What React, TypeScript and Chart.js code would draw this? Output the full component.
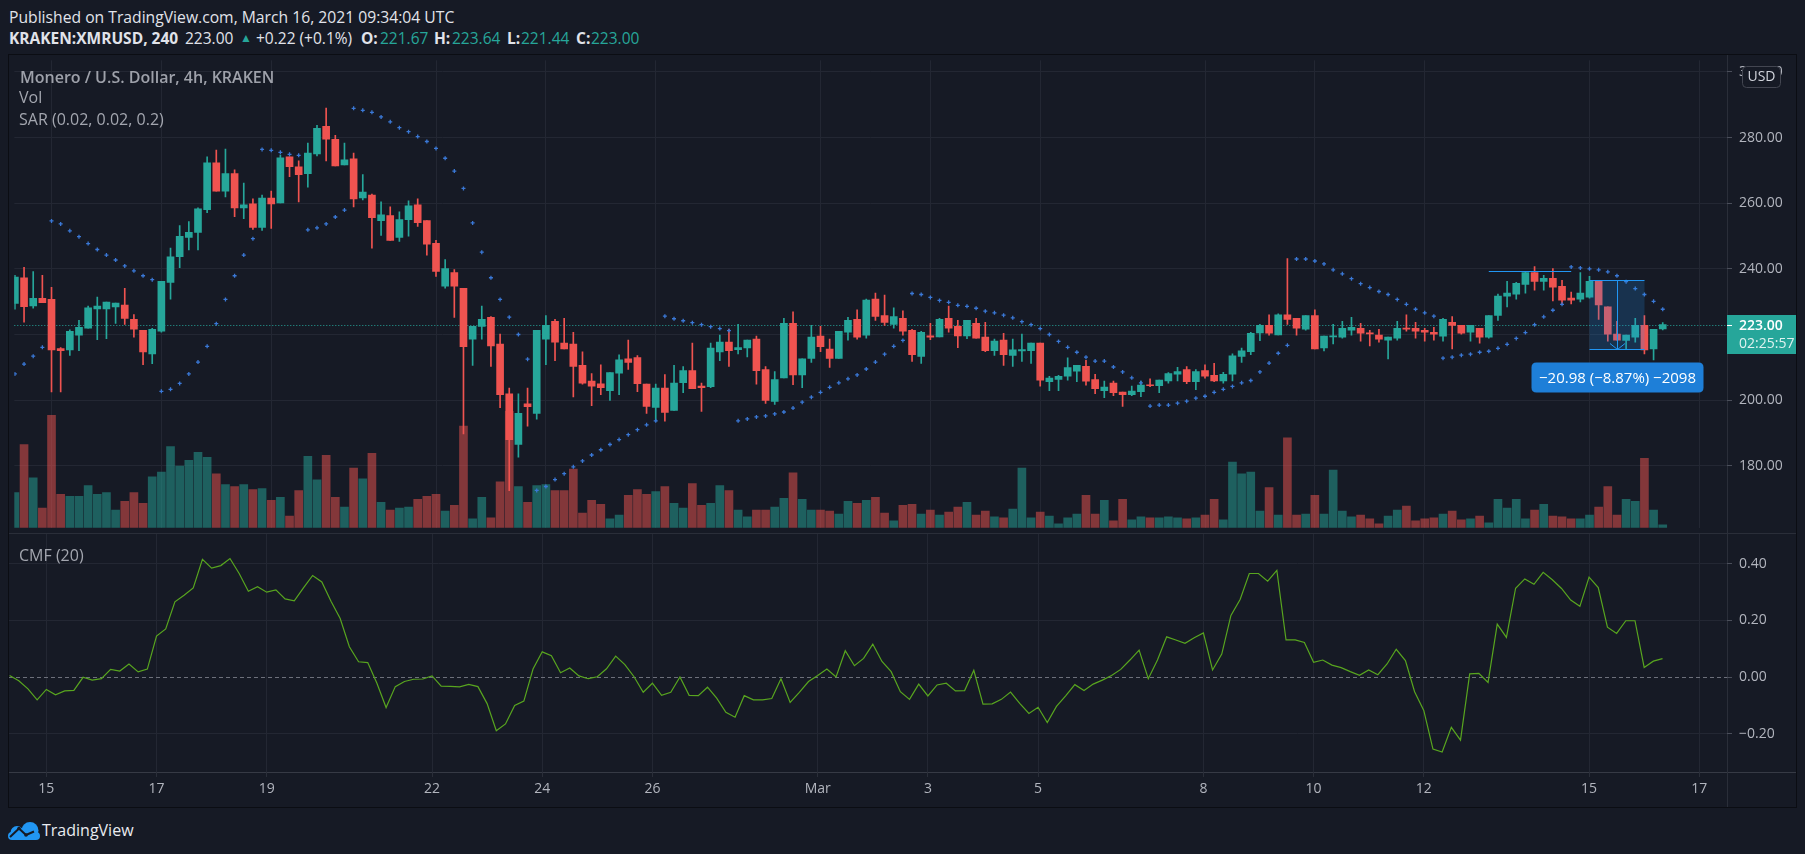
import React, { useEffect, useRef } from "react";
import { Chart, registerables } from "chart.js";

Chart.register(...registerables);

// ---------------- data (4h candles, index 0 = Feb 14 08:00 UTC) ----------------
const OPEN = [
  229.5, 237.3, 228.7, 231.0, 230.7, 215.7, 215.3, 219.8, 221.9, 227.8,
  227.8, 228.4, 229.0, 224.6, 221.3, 214.1, 221.0, 235.9, 243.7, 249.6,
  251.1, 258.0, 272.3, 263.7, 269.0, 258.6, 259.8, 252.6, 261.6, 260.1,
  274.1, 271.1, 269.0, 275.0, 283.4, 279.5, 271.7, 273.5, 261.6, 262.5,
  254.7, 256.2, 249.6, 255.0, 259.5, 254.7, 247.8, 234.7, 238.9, 234.1,
  218.6, 222.5, 225.2, 217.1, 201.9, 186.5, 198.9, 196.0, 218.6, 224.0,
  217.4, 217.1, 210.6, 205.8, 205.0, 202.9, 208.2, 212.6, 213.0, 204.9,
  197.8, 203.7, 196.9, 205.3, 209.0, 204.3, 204.1, 214.7, 217.7, 215.4,
  215.9, 218.6, 209.3, 199.6, 206.8, 223.4, 207.7, 212.7, 219.5, 215.6,
  212.7, 220.7, 224.6, 219.8, 230.8, 225.8, 223.1, 224.9, 221.3, 213.3,
  219.6, 219.3, 224.9, 222.5, 219.6, 223.4, 219.2, 215.1, 218.3, 213.6,
  215.0, 215.1, 217.4, 205.6, 206.3, 207.3, 208.8, 210.3, 206.3, 202.9,
  205.2, 202.5, 201.7, 202.6, 204.7, 204.4, 205.9, 207.9, 209.3, 205.6,
  209.0, 207.6, 205.9, 207.9, 213.3, 214.8, 220.5, 222.8, 219.9, 226.0,
  224.9, 221.6, 225.8, 215.9, 219.3, 219.2, 221.3, 221.9, 220.5, 219.8,
  218.3, 218.9, 222.0, 221.9, 221.3, 220.7, 219.5, 223.7, 222.8, 220.7,
  221.9, 219.2, 225.8, 231.7, 232.3, 235.3, 238.9, 236.2, 237.1, 234.7,
  231.1, 230.8, 231.4, 236.2, 228.4, 220.1, 218.2, 219.2, 222.8, 215.6,
  221.67,
];
const HIGH = [
  238.0, 240.5, 239.2, 238.0, 234.4, 216.0, 221.4, 224.3, 228.7, 231.4,
  229.9, 229.6, 234.1, 226.1, 221.3, 221.9, 236.2, 246.3, 253.2, 254.4,
  258.6, 274.1, 276.2, 276.5, 270.2, 266.1, 261.3, 262.5, 263.7, 274.7,
  274.1, 272.9, 278.3, 283.7, 289.0, 280.7, 278.3, 275.3, 268.7, 262.8,
  260.4, 258.9, 257.4, 260.7, 261.3, 254.7, 248.7, 242.8, 239.8, 234.1,
  222.5, 228.7, 225.5, 220.1, 203.7, 201.9, 203.7, 221.3, 225.8, 224.6,
  224.9, 220.7, 214.7, 208.1, 210.8, 208.4, 213.8, 218.3, 213.6, 204.9,
  204.9, 207.8, 210.6, 210.2, 217.4, 205.2, 217.4, 219.8, 221.6, 223.1,
  218.3, 219.5, 210.2, 208.7, 224.9, 226.9, 212.6, 222.8, 222.5, 218.6,
  221.0, 225.2, 227.5, 230.8, 232.6, 232.0, 228.1, 227.2, 221.6, 221.0,
  223.4, 224.9, 228.7, 224.3, 224.3, 224.9, 223.7, 218.6, 220.4, 218.6,
  220.1, 217.4, 217.4, 207.3, 207.6, 212.9, 210.6, 212.1, 207.9, 205.8,
  205.8, 202.5, 204.3, 205.8, 206.5, 206.1, 208.4, 210.0, 210.2, 209.3,
  210.8, 211.2, 208.5, 214.1, 215.9, 220.7, 223.1, 226.0, 226.3, 243.1,
  224.9, 225.8, 227.5, 219.5, 223.1, 224.0, 225.2, 223.4, 221.3, 221.6,
  219.2, 224.0, 226.0, 223.7, 221.9, 222.2, 224.9, 225.5, 222.8, 222.8,
  221.9, 225.8, 232.3, 236.2, 235.9, 239.2, 240.7, 238.0, 240.1, 236.5,
  232.9, 238.9, 237.7, 236.2, 228.4, 224.0, 219.8, 224.9, 225.8, 221.6,
  223.64,
];
const LOW = [
  227.7, 223.8, 228.0, 229.7, 202.5, 202.5, 213.6, 215.1, 221.9, 218.4,
  218.7, 223.4, 223.1, 219.2, 210.8, 211.1, 220.7, 230.8, 240.4, 245.8,
  245.8, 257.1, 263.7, 261.9, 255.9, 255.3, 252.0, 251.7, 252.3, 260.1,
  268.1, 260.4, 264.9, 274.4, 272.9, 271.4, 271.7, 258.9, 261.0, 246.3,
  250.2, 248.7, 248.4, 250.0, 252.9, 244.2, 237.7, 234.1, 225.2, 189.7,
  210.6, 218.6, 210.3, 197.7, 172.4, 182.6, 192.1, 194.2, 210.8, 212.0,
  215.6, 201.0, 204.9, 198.3, 201.7, 199.9, 201.7, 209.4, 202.6, 196.0,
  193.6, 193.6, 196.9, 202.3, 203.5, 196.6, 203.8, 212.0, 210.3, 214.1,
  213.2, 204.9, 199.0, 198.7, 206.8, 204.7, 203.8, 211.5, 214.8, 210.0,
  212.7, 218.3, 218.6, 218.9, 224.3, 222.8, 221.9, 219.8, 211.8, 211.2,
  218.4, 219.3, 220.7, 216.0, 218.7, 218.9, 214.8, 213.6, 210.6, 210.3,
  211.8, 211.2, 204.3, 202.9, 202.9, 206.1, 205.6, 204.6, 202.0, 200.8,
  201.4, 198.1, 201.4, 201.1, 204.1, 202.3, 205.2, 205.9, 205.0, 203.2,
  206.7, 205.6, 205.2, 205.9, 211.5, 213.9, 218.1, 219.8, 219.9, 223.1,
  219.8, 221.3, 215.6, 215.0, 217.1, 218.9, 219.8, 218.0, 216.5, 217.7,
  212.6, 218.3, 221.0, 218.9, 218.0, 218.3, 218.0, 215.6, 220.1, 218.0,
  217.4, 218.9, 224.3, 228.4, 230.8, 232.6, 233.5, 233.5, 230.2, 229.3,
  229.3, 229.9, 231.1, 224.6, 218.0, 218.3, 215.6, 217.7, 214.1, 212.3,
  221.44,
];
const CLOSE = [
  237.5, 228.5, 231.0, 229.7, 215.3, 215.1, 221.0, 222.2, 228.1, 228.7,
  229.9, 229.6, 224.9, 221.6, 214.7, 221.6, 236.2, 243.7, 249.9, 251.1,
  258.3, 272.3, 263.7, 269.0, 258.6, 259.5, 252.6, 261.6, 259.8, 273.8,
  271.1, 268.7, 275.3, 282.8, 279.5, 271.4, 273.2, 261.3, 263.4, 255.6,
  256.5, 248.7, 255.0, 259.2, 254.1, 247.5, 239.2, 240.1, 234.7, 216.3,
  222.5, 224.6, 216.5, 201.7, 188.0, 196.0, 198.0, 221.3, 222.8, 217.7,
  215.6, 210.3, 205.2, 204.3, 203.8, 208.4, 212.3, 211.5, 205.0, 198.1,
  203.7, 196.3, 205.2, 209.0, 203.5, 203.8, 215.9, 217.7, 215.1, 216.0,
  218.3, 209.0, 199.9, 206.3, 223.4, 207.7, 212.6, 219.2, 216.3, 212.7,
  221.0, 224.3, 219.2, 230.5, 225.5, 223.7, 225.5, 221.0, 213.9, 220.7,
  219.2, 224.6, 221.9, 219.6, 224.3, 218.9, 215.1, 218.0, 213.9, 215.3,
  215.4, 217.4, 206.1, 206.7, 207.3, 209.9, 210.6, 205.8, 203.5, 204.0,
  202.3, 201.7, 202.8, 204.6, 204.4, 206.1, 208.1, 208.7, 205.6, 208.7,
  207.3, 205.9, 207.9, 213.5, 215.0, 220.4, 222.8, 220.4, 226.0, 224.6,
  221.9, 225.8, 215.6, 219.5, 219.6, 221.9, 222.2, 220.4, 220.2, 218.6,
  219.2, 221.9, 221.6, 221.0, 220.7, 220.1, 224.6, 222.8, 220.4, 222.8,
  219.2, 225.8, 231.7, 232.6, 235.6, 238.9, 236.2, 237.1, 234.4, 230.5,
  230.5, 232.6, 236.2, 229.0, 220.1, 218.3, 219.8, 222.8, 215.3, 221.6,
  223.0,
];
// volume, thousand XMR
const VOLUME = [
  36, 85, 51, 20, 115, 34, 32, 32, 43, 34,
  36, 18, 27, 36, 25, 52, 57, 83, 63, 69,
  77, 72, 55, 44, 42, 44, 39, 40, 28, 31,
  12, 38, 73, 49, 74, 31, 21, 61, 50, 76,
  26, 18, 20, 21, 29, 32, 34, 17, 23, 104,
  9, 31, 10, 47, 119, 42, 26, 43, 44, 38,
  38, 60, 15, 28, 24, 9, 13, 33, 39, 34,
  37, 42, 25, 20, 45, 23, 25, 43, 38, 18,
  11, 18, 18, 21, 30, 56, 29, 18, 18, 17,
  14, 27, 25, 28, 31, 15, 7, 23, 24, 14,
  18, 13, 16, 21, 26, 13, 17, 11, 10, 19,
  61, 10, 16, 12, 4, 10, 14, 33, 14, 28,
  7, 29, 8, 11, 10, 10, 11, 10, 9, 10,
  13, 29, 8, 67, 55, 57, 17, 41, 13, 92,
  13, 14, 33, 14, 59, 17, 11, 13, 9, 4,
  12, 18, 22, 7, 9, 10, 14, 17, 8, 9,
  12, 5, 29, 20, 29, 9, 18, 24, 12, 11,
  9, 9, 13, 21, 42, 13, 29, 27, 71, 18,
  3,
];
const SAR = [
  208.0, 211.0, 213.4, 216.1, 254.6, 253.7, 251.6, 249.8, 247.7, 245.9,
  244.2, 242.7, 240.9, 239.4, 237.9, 236.7, 202.7, 203.3, 205.1, 208.0,
  211.6, 216.4, 223.3, 230.7, 237.9, 244.2, 249.2, 276.4, 276.1, 275.5,
  274.9, 274.6, 251.9, 252.5, 253.7, 255.8, 257.9, 288.9, 288.3, 287.7,
  286.3, 284.8, 283.0, 281.8, 280.3, 278.8, 276.7, 273.7, 269.8, 264.5,
  254.0, 245.1, 237.3, 230.7, 225.3, 220.0, 212.5, 172.5, 173.7, 175.8,
  177.6, 179.7, 181.5, 183.3, 184.9, 186.5, 188.0, 189.5, 191.0, 192.5,
  193.7, 225.6, 224.8, 224.2, 223.6, 223.0, 222.4, 221.8, 221.2, 193.7,
  194.3, 194.9, 195.2, 195.8, 196.4, 197.6, 199.4, 200.9, 202.4, 203.9,
  205.3, 206.5, 207.7, 209.5, 211.6, 214.0, 216.4, 218.2, 232.5, 232.2,
  231.3, 230.4, 229.8, 228.9, 228.6, 228.0, 227.1, 226.6, 225.9, 225.1,
  223.9, 223.0, 221.8, 220.0, 217.9, 216.1, 214.6, 213.1, 211.9, 211.9,
  210.1, 208.6, 206.8, 205.3, 198.2, 198.5, 198.5, 199.1, 199.7, 200.6,
  201.2, 202.4, 203.3, 204.2, 205.3, 206.0, 208.6, 211.3, 214.3, 216.7,
  243.0, 243.0, 242.4, 241.5, 239.7, 238.5, 237.0, 235.5, 234.3, 233.1,
  232.2, 230.7, 229.2, 227.7, 226.6, 225.6, 212.8, 213.1, 213.7, 214.0,
  214.6, 214.9, 215.8, 217.0, 218.8, 220.6, 223.0, 225.4, 227.4, 229.2,
  240.6, 240.3, 240.0, 239.7, 239.1, 237.9, 236.1, 234.0, 232.2, 230.1,
  227.7,
];
const CMF = [
  0.005, -0.013, -0.042, -0.081, -0.044, -0.063, -0.049, -0.047, -0.001, -0.011,
  -0.006, 0.027, 0.021, 0.046, 0.018, 0.028, 0.145, 0.17, 0.266, 0.289,
  0.315, 0.416, 0.385, 0.394, 0.419, 0.366, 0.303, 0.319, 0.3, 0.308,
  0.276, 0.269, 0.315, 0.359, 0.336, 0.268, 0.207, 0.107, 0.054, 0.051,
  -0.022, -0.108, -0.034, -0.016, -0.008, -0.007, 0.004, -0.032, -0.033, -0.035,
  -0.026, -0.034, -0.094, -0.19, -0.166, -0.101, -0.085, 0.028, 0.089, 0.075,
  0.015, 0.032, 0.004, -0.006, 0.001, 0.029, 0.074, 0.044, 0.001, -0.054,
  -0.022, -0.065, -0.054, 0.0, -0.065, -0.066, -0.036, -0.075, -0.125, -0.142,
  -0.066, -0.081, -0.081, -0.076, -0.006, -0.09, -0.054, -0.016, 0.005, 0.028,
  0.0, 0.093, 0.04, 0.066, 0.116, 0.055, 0.019, -0.052, -0.079, -0.025,
  -0.067, -0.028, -0.022, -0.049, -0.048, 0.024, -0.096, -0.095, -0.079, -0.053,
  -0.093, -0.129, -0.107, -0.161, -0.104, -0.067, -0.027, -0.048, -0.025, -0.011,
  0.005, 0.027, 0.06, 0.095, -0.006, 0.06, 0.142, 0.131, 0.119, 0.139,
  0.156, 0.025, 0.081, 0.218, 0.274, 0.366, 0.366, 0.339, 0.377, 0.131,
  0.131, 0.122, 0.052, 0.06, 0.042, 0.033, 0.019, 0.006, 0.025, 0.008,
  0.046, 0.098, 0.058, -0.052, -0.118, -0.255, -0.265, -0.178, -0.223, 0.011,
  0.013, -0.019, 0.187, 0.14, 0.314, 0.347, 0.328, 0.37, 0.344, 0.313,
  0.272, 0.25, 0.353, 0.316, 0.176, 0.154, 0.199, 0.199, 0.034, 0.056,
  0.065,
];
// day ticks: days after Feb 15 (candle index = 4 + 6 * day)
const DAY_TICKS = [0, 2, 4, 7, 9, 11, 14, 16, 18, 21, 23, 25, 28, 30];
const DAY_LABELS = ["15", "17", "19", "22", "24", "26", "Mar", "3", "5", "8", "10", "12", "15", "17"];
const PRICE_TICKS = [180, 200, 220, 240, 260, 280, 300];
const CMF_TICKS = [-0.2, 0, 0.2, 0.4];
const LAST_PRICE = 223.0;
const COUNTDOWN = "02:25:57";
const MEASURE_FROM = 172;
const MEASURE_TO = 178;
const MEASURE_START = 236.5;
const MEASURE_END = 215.52;
const MEASURE_TEXT = "\u221220.98 (\u22128.87%) \u22122098";
const LEVEL_FROM = 161;
const LEVEL_TO = 170;
const LEVEL_PRICE = 239.2;

// ---------------- style ----------------
const FONT = "'Open Sans', 'Noto Sans', Roboto, sans-serif";
const BG = "#161a25";
const GRID = "#232733";
const LINE = "#2a2e39";
const TICK = "#4a4e5a";
const TEXT = "#b2b5be";
const LEGEND = "#a3a6af";
const TEAL = "#26a69a";
const RED = "#ef5350";
const VOL_UP = "rgba(38,166,154,0.5)";
const VOL_DOWN = "rgba(239,83,80,0.5)";
const BLUE = "#2196f3";
const SAR_COLOR = "#3a78d6";
const CMF_COLOR = "#58a51f";

const X_MIN = -0.065;
const X_MAX = 187.02;
const PRICE_MIN = 161.15;
const PRICE_MAX = 303.54;
const VOL_MAX = 478;
const CMF_MIN = -0.3359;
const CMF_MAX = 0.5057;

const IDX = OPEN.map((_, i) => i);
const isUp = (i: number) => CLOSE[i] >= OPEN[i];
const candleColors = IDX.map((i) => (isUp(i) ? TEAL : RED));

const fixY = (w: number) => (s: any) => {
  s.width = w;
  s.paddingTop = 0;
  s.paddingBottom = 0;
};
const fixX = (h: number) => (s: any) => {
  s.height = h;
  s.paddingLeft = 0;
  s.paddingRight = 0;
};
const dayTicks = (s: any) => {
  s.ticks = DAY_TICKS.map((d) => ({ value: 4 + 6 * d }));
};

function rr(ctx: CanvasRenderingContext2D, x: number, y: number, w: number, h: number, r: number) {
  ctx.beginPath();
  ctx.moveTo(x + r, y);
  ctx.lineTo(x + w - r, y);
  ctx.quadraticCurveTo(x + w, y, x + w, y + r);
  ctx.lineTo(x + w, y + h - r);
  ctx.quadraticCurveTo(x + w, y + h, x + w - r, y + h);
  ctx.lineTo(x + r, y + h);
  ctx.quadraticCurveTo(x, y + h, x, y + h - r);
  ctx.lineTo(x, y + r);
  ctx.quadraticCurveTo(x, y, x + r, y);
  ctx.closePath();
}

const overlayA = {
  id: "overlayA",
  beforeDatasetsDraw(chart: any) {
    const { ctx, chartArea: a, scales } = chart;
    const y = Math.round(scales.y.getPixelForValue(LAST_PRICE)) + 0.5;
    ctx.save();
    ctx.strokeStyle = TEAL;
    ctx.lineWidth = 1;
    ctx.setLineDash([1, 2]);
    ctx.beginPath();
    ctx.moveTo(a.left, y);
    ctx.lineTo(a.right, y);
    ctx.stroke();
    ctx.restore();
  },
  afterDatasetsDraw(chart: any) {
    const { ctx, scales } = chart;
    const xs = scales.x;
    const ys = scales.y;
    ctx.save();
    ctx.strokeStyle = BLUE;
    ctx.lineWidth = 1;
    // horizontal level
    const ly = Math.round(ys.getPixelForValue(LEVEL_PRICE)) + 0.5;
    ctx.beginPath();
    ctx.moveTo(xs.getPixelForValue(LEVEL_FROM), ly);
    ctx.lineTo(xs.getPixelForValue(LEVEL_TO), ly);
    ctx.stroke();
    // measure box
    const x0 = Math.round(xs.getPixelForValue(MEASURE_FROM)) + 0.5;
    const x1 = Math.round(xs.getPixelForValue(MEASURE_TO)) + 0.5;
    const y0 = Math.round(ys.getPixelForValue(MEASURE_START)) + 0.5;
    const y1 = Math.round(ys.getPixelForValue(MEASURE_END)) + 0.5;
    ctx.fillStyle = "rgba(33,150,243,0.2)";
    ctx.fillRect(x0, y0, x1 - x0, y1 - y0);
    ctx.beginPath();
    ctx.moveTo(x0, y0);
    ctx.lineTo(x1, y0);
    ctx.moveTo(x0, y1);
    ctx.lineTo(x1, y1);
    ctx.stroke();
    const xm = Math.round((x0 + x1) / 2) + 0.5;
    ctx.beginPath();
    ctx.moveTo(xm, y0);
    ctx.lineTo(xm, y1);
    ctx.moveTo(xm - 7.5, y1 - 6);
    ctx.lineTo(xm, y1);
    ctx.lineTo(xm + 7.5, y1 - 6);
    ctx.stroke();
    // label
    const bw = 172;
    const bh = 30;
    const bx = xm - bw / 2;
    const by = y1 + 13;
    ctx.fillStyle = "#1e7fd8";
    rr(ctx, bx, by, bw, bh, 5);
    ctx.fill();
    ctx.fillStyle = "#ffffff";
    ctx.font = `15px ${FONT}`;
    ctx.textAlign = "center";
    ctx.textBaseline = "middle";
    ctx.fillText(MEASURE_TEXT, xm, by + bh / 2 + 1);
    ctx.restore();
  },
  afterDraw(chart: any) {
    const { ctx, chartArea: a, scales } = chart;
    const yp = Math.round(scales.y.getPixelForValue(LAST_PRICE));
    const left = a.right;
    const right = chart.width;
    ctx.save();
    ctx.fillStyle = TEAL;
    ctx.fillRect(left, yp - 10, right - left, 39);
    ctx.strokeStyle = "#ffffff";
    ctx.beginPath();
    ctx.moveTo(left, yp + 0.5);
    ctx.lineTo(left + 5, yp + 0.5);
    ctx.stroke();
    ctx.fillStyle = "#ffffff";
    ctx.textAlign = "left";
    ctx.textBaseline = "middle";
    ctx.font = `600 14px ${FONT}`;
    ctx.fillText(LAST_PRICE.toFixed(2), left + 12, yp + 1);
    ctx.font = `14px ${FONT}`;
    ctx.fillStyle = "rgba(255,255,255,0.85)";
    ctx.fillText(COUNTDOWN, left + 12, yp + 19);
    // USD button
    const ux = left + 15;
    const uy = 11;
    ctx.fillStyle = BG;
    rr(ctx, ux + 0.5, uy + 0.5, 38, 21, 4);
    ctx.fill();
    ctx.strokeStyle = "#434651";
    ctx.stroke();
    ctx.fillStyle = "#d1d4dc";
    ctx.textAlign = "center";
    ctx.font = `14px ${FONT}`;
    ctx.fillText("USD", ux + 19.5, uy + 11.5);
    ctx.restore();
  },
};

const overlayB = {
  id: "overlayB",
  beforeDatasetsDraw(chart: any) {
    const { ctx, chartArea: a, scales } = chart;
    const y = Math.round(scales.y.getPixelForValue(0)) + 0.5;
    ctx.save();
    ctx.strokeStyle = "#6d707b";
    ctx.lineWidth = 1;
    ctx.setLineDash([4, 3]);
    ctx.beginPath();
    ctx.moveTo(a.left, y);
    ctx.lineTo(a.right, y);
    ctx.stroke();
    ctx.restore();
  },
};

function configA(): any {
  return {
    type: "bar",
    data: {
      datasets: [
        {
          label: "Vol",
          type: "bar",
          yAxisID: "yVol",
          data: IDX.map((i) => ({ x: i, y: VOLUME[i] })),
          backgroundColor: IDX.map((i) => (isUp(i) ? VOL_UP : VOL_DOWN)),
          barThickness: 8,
          grouped: false,
          borderWidth: 0,
          order: 4,
        },
        {
          label: "wick",
          type: "bar",
          yAxisID: "y",
          data: IDX.map((i) => ({ x: i, y: [LOW[i], HIGH[i]] })),
          backgroundColor: candleColors,
          barThickness: 1,
          grouped: false,
          borderWidth: 0,
          order: 3,
        },
        {
          label: "body",
          type: "bar",
          yAxisID: "y",
          data: IDX.map((i) => ({ x: i, y: [OPEN[i], CLOSE[i]] })),
          backgroundColor: candleColors,
          barThickness: 7,
          minBarLength: 1,
          grouped: false,
          borderWidth: 0,
          order: 2,
        },
        {
          label: "SAR",
          type: "line",
          yAxisID: "y",
          data: IDX.map((i) => ({ x: i, y: SAR[i] })),
          showLine: false,
          pointStyle: "cross",
          pointRadius: 2,
          pointBorderWidth: 1.3,
          pointBorderColor: SAR_COLOR,
          pointBackgroundColor: SAR_COLOR,
          borderColor: SAR_COLOR,
          order: 1,
        },
      ],
    },
    options: {
      responsive: false,
      animation: false,
      devicePixelRatio: 1,
      events: [],
      layout: { padding: 0 },
      plugins: { legend: { display: false }, tooltip: { enabled: false } },
      scales: {
        x: {
          type: "linear",
          min: X_MIN,
          max: X_MAX,
          bounds: "data",
          offset: false,
          afterBuildTicks: dayTicks,
          afterFit: fixX(0),
          ticks: { display: false },
          grid: { color: GRID, drawTicks: false, offset: false },
          border: { display: false },
        },
        y: {
          type: "linear",
          position: "right",
          min: PRICE_MIN,
          max: PRICE_MAX,
          bounds: "data",
          afterBuildTicks: (s: any) => {
            s.ticks = PRICE_TICKS.map((v) => ({ value: v }));
          },
          afterFit: fixY(69),
          ticks: {
            color: TEXT,
            padding: 7,
            font: { size: 14, family: FONT },
            callback: (v: any) => Number(v).toFixed(2),
          },
          grid: { color: GRID, drawTicks: true, tickLength: 5, tickColor: TICK },
          border: { display: false },
        },
        yVol: {
          type: "linear",
          display: false,
          position: "left",
          min: 0,
          max: VOL_MAX,
        },
      },
    },
    plugins: [overlayA],
  };
}

function configB(): any {
  return {
    type: "line",
    data: {
      datasets: [
        {
          label: "CMF (20)",
          data: IDX.map((i) => ({ x: i, y: CMF[i] })),
          borderColor: CMF_COLOR,
          borderWidth: 1.2,
          pointRadius: 0,
          tension: 0,
          fill: false,
        },
      ],
    },
    options: {
      responsive: false,
      animation: false,
      devicePixelRatio: 1,
      events: [],
      layout: { padding: 0 },
      plugins: { legend: { display: false }, tooltip: { enabled: false } },
      scales: {
        x: {
          type: "linear",
          min: X_MIN,
          max: X_MAX,
          bounds: "data",
          offset: false,
          afterBuildTicks: dayTicks,
          afterFit: fixX(35),
          ticks: {
            color: TEXT,
            padding: 4,
            autoSkip: false,
            maxRotation: 0,
            minRotation: 0,
            font: { size: 14, family: FONT },
            callback: (_v: any, i: number) => DAY_LABELS[i],
          },
          grid: { color: GRID, drawTicks: true, tickLength: 5, tickColor: LINE, offset: false },
          border: { display: false },
        },
        y: {
          type: "linear",
          position: "right",
          min: CMF_MIN,
          max: CMF_MAX,
          bounds: "data",
          afterBuildTicks: (s: any) => {
            s.ticks = CMF_TICKS.map((v) => ({ value: v }));
          },
          afterFit: fixY(69),
          ticks: {
            color: TEXT,
            padding: 7,
            font: { size: 14, family: FONT },
            callback: (v: any) => {
              const n = Number(v);
              return (n < -1e-9 ? "\u2212" : "") + Math.abs(n).toFixed(2);
            },
          },
          grid: {
            color: (c: any) => (c.tick && Math.abs(c.tick.value) < 1e-9 ? "rgba(0,0,0,0)" : GRID),
            drawTicks: true,
            tickLength: 5,
            tickColor: TICK,
          },
          border: { display: false },
        },
      },
    },
    plugins: [overlayB],
  };
}

const abs = (left: number, top: number, extra: any = {}): any => ({
  position: "absolute",
  left,
  top,
  whiteSpace: "nowrap",
  lineHeight: "20px",
  ...extra,
});

export default function App() {
  const aRef = useRef<HTMLCanvasElement | null>(null);
  const bRef = useRef<HTMLCanvasElement | null>(null);

  useEffect(() => {
    const prev = document.body.style.margin;
    document.body.style.margin = "0";
    document.body.style.background = BG;
    Chart.defaults.font.family = FONT;
    const a = new Chart(aRef.current as HTMLCanvasElement, configA());
    const b = new Chart(bRef.current as HTMLCanvasElement, configB());
    return () => {
      a.destroy();
      b.destroy();
      document.body.style.margin = prev;
    };
  }, []);

  const hdr = { fontSize: 15.5, color: "#e1e3ea" };
  const bold = { ...hdr, fontWeight: 700 };
  const val = { fontSize: 15.5, color: TEAL };
  const leg = { fontSize: 16, color: LEGEND };

  return (
    <div
      style={{
        position: "fixed",
        left: 0,
        top: 0,
        width: 1805,
        height: 854,
        background: BG,
        overflow: "hidden",
        fontFamily: FONT,
      }}
    >
      {/* frame and separators */}
      <div style={{ position: "absolute", left: 8, top: 54, width: 1789, height: 754, border: "1px solid #0b0d13", boxSizing: "border-box" }} />
      <div style={{ position: "absolute", left: 9, top: 533, width: 1787, height: 1, background: LINE }} />
      <div style={{ position: "absolute", left: 9, top: 772, width: 1787, height: 1, background: "#363a45" }} />
      <div style={{ position: "absolute", left: 1727, top: 55, width: 1, height: 752, background: LINE }} />

      <canvas ref={aRef} width={1787} height={478} style={{ position: "absolute", left: 9, top: 55, width: 1787, height: 478 }} />
      <canvas ref={bRef} width={1787} height={273} style={{ position: "absolute", left: 9, top: 534, width: 1787, height: 273 }} />

      {/* header */}
      <div style={abs(9, 7, { fontSize: 15.7, color: "#e1e3ea" })}>Published on TradingView.com, March 16, 2021 09:34:04 UTC</div>
      <div style={abs(9, 28, bold)}>KRAKEN:XMRUSD, 240</div>
      <div style={abs(185, 28, hdr)}>223.00</div>
      <div style={abs(240, 28, { fontSize: 12, color: TEAL })}>▲</div>
      <div style={abs(256, 28, hdr)}>+0.22 (+0.1%)</div>
      <div style={abs(361, 28, bold)}>O:</div>
      <div style={abs(380, 28, val)}>221.67</div>
      <div style={abs(434, 28, bold)}>H:</div>
      <div style={abs(452, 28, val)}>223.64</div>
      <div style={abs(507, 28, bold)}>L:</div>
      <div style={abs(521, 28, val)}>221.44</div>
      <div style={abs(576, 28, bold)}>C:</div>
      <div style={abs(591, 28, val)}>223.00</div>

      {/* pane legends */}
      <div style={abs(20, 67, { fontSize: 16, fontWeight: 600, color: "#9ea1aa" })}>Monero / U.S. Dollar, 4h, KRAKEN</div>
      <div style={abs(19, 87, leg)}>Vol</div>
      <div style={abs(19, 109, leg)}>SAR (0.02, 0.02, 0.2)</div>
      <div style={abs(19, 545, leg)}>CMF (20)</div>

      {/* logo */}
      <svg style={{ position: "absolute", left: 7, top: 822 }} width="34" height="18" viewBox="0 0 34 18">
        <circle cx="23" cy="8.5" r="8.5" fill="#2196f3" />
        <circle cx="10" cy="10.5" r="6.5" fill="#2196f3" />
        <rect x="1" y="10" width="32" height="8" rx="4" fill="#2196f3" />
        <polyline points="3,15 12,6.5 19,13 27,9.5" fill="none" stroke={BG} strokeWidth="2" strokeLinejoin="round" />
        <circle cx="12" cy="6.5" r="1.8" fill={BG} />
        <circle cx="19" cy="13" r="1.8" fill={BG} />
      </svg>
      <div style={abs(42, 820, { fontSize: 16, color: "#e9ebf0" })}>TradingView</div>
    </div>
  );
}
